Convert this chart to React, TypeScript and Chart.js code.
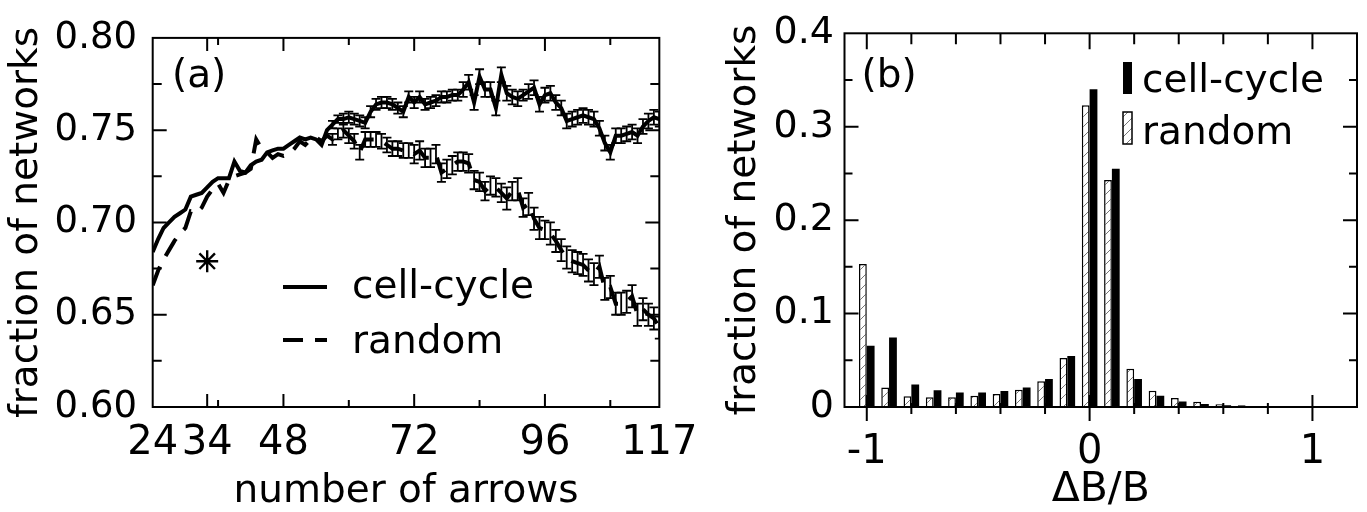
import { useEffect, useRef } from "react";
import { Chart, registerables } from "chart.js";

Chart.register(...registerables);

const FONT = '"DejaVu Sans", sans-serif';

// ---------- panel (a) data ----------
const ARROWS = [
  24, 25, 26, 27, 28, 29, 30, 31, 32, 33,
  34, 35, 36, 37, 38, 39, 40, 41, 42, 43,
  44, 45, 46, 47, 48, 49, 50, 51, 52, 53,
  54, 55, 56, 57, 58, 59, 60, 61, 62, 63,
  64, 65, 66, 67, 68, 69, 70, 71, 72, 73,
  74, 75, 76, 77, 78, 79, 80, 81, 82, 83,
  84, 85, 86, 87, 88, 89, 90, 91, 92, 93,
  94, 95, 96, 97, 98, 99, 100, 101, 102, 103,
  104, 105, 106, 107, 108, 109, 110, 111, 112, 113,
  114, 115, 116, 117,
];

const CELL_CYCLE = [
  0.684, 0.691, 0.697, 0.700, 0.703, 0.705, 0.707, 0.714, 0.715, 0.716,
  0.719, 0.722, 0.724, 0.724, 0.724, 0.733, 0.728, 0.727, 0.731, 0.733,
  0.734, 0.738, 0.739, 0.740, 0.740, 0.742, 0.744, 0.746, 0.745, 0.746,
  0.745, 0.742, 0.750, 0.753, 0.756, 0.756, 0.757, 0.756, 0.755, 0.754,
  0.760, 0.764, 0.765, 0.765, 0.764, 0.762, 0.760, 0.768, 0.765, 0.768,
  0.764, 0.765, 0.766, 0.768, 0.768, 0.769, 0.769, 0.772, 0.776, 0.765,
  0.779, 0.772, 0.772, 0.762, 0.780, 0.770, 0.768, 0.767, 0.769, 0.771,
  0.773, 0.764, 0.769, 0.770, 0.765, 0.762, 0.755, 0.756, 0.757, 0.758,
  0.757, 0.756, 0.751, 0.743, 0.738, 0.747, 0.747, 0.748, 0.749, 0.747,
  0.752, 0.755, 0.757, 0.756,
];

const RANDOM = [
  0.666, 0.674, 0.680, 0.685, 0.690, 0.694, 0.697, 0.706, 0.705, 0.708,
  0.714, 0.718, 0.721, 0.716, 0.723, 0.725, 0.726, 0.727, 0.729, 0.745,
  0.740, 0.738, 0.735, 0.737, 0.736, 0.737, 0.740, 0.744, 0.742, 0.745,
  0.746, 0.744, 0.747, 0.745, 0.748, 0.750, 0.747, 0.744, 0.738, 0.745,
  0.745, 0.745, 0.744, 0.742, 0.740, 0.740, 0.739, 0.739, 0.737, 0.739,
  0.735, 0.735, 0.737, 0.727, 0.729, 0.731, 0.733, 0.733, 0.732, 0.723,
  0.722, 0.717, 0.720, 0.719, 0.716, 0.713, 0.717, 0.718, 0.708, 0.710,
  0.702, 0.697, 0.696, 0.694, 0.690, 0.685, 0.681, 0.679, 0.678, 0.677,
  0.674, 0.672, 0.676, 0.664, 0.665, 0.656, 0.656, 0.657, 0.660, 0.650,
  0.653, 0.650, 0.648, 0.643,
];

// sampled points (n >= SAMPLED_FROM) carry error bars
const SAMPLED_FROM = 57;
const CELL_CYCLE_ERR = [
  0.002, 0.002, 0.003, 0.003, 0.003, 0.003, 0.003, 0.003, 0.003, 0.003,
  0.003, 0.003, 0.003, 0.003, 0.003, 0.003, 0.003, 0.003, 0.003, 0.003,
  0.003, 0.003, 0.003, 0.003, 0.004, 0.004, 0.004, 0.004, 0.004, 0.004,
  0.004, 0.004, 0.004, 0.004, 0.004, 0.003, 0.004, 0.004, 0.004, 0.004,
  0.004, 0.004, 0.004, 0.004, 0.004, 0.004, 0.004, 0.004, 0.004, 0.004,
  0.004, 0.004, 0.004, 0.004, 0.004, 0.004, 0.004, 0.004, 0.004, 0.004,
  0.004,
];
const RANDOM_ERR = [
  0.003, 0.003, 0.004, 0.004, 0.004, 0.004, 0.004, 0.004, 0.004, 0.004,
  0.004, 0.004, 0.004, 0.004, 0.004, 0.005, 0.005, 0.005, 0.005, 0.005,
  0.005, 0.005, 0.005, 0.005, 0.005, 0.005, 0.005, 0.005, 0.005, 0.005,
  0.005, 0.005, 0.006, 0.005, 0.006, 0.005, 0.006, 0.006, 0.006, 0.005,
  0.006, 0.006, 0.006, 0.006, 0.006, 0.006, 0.006, 0.006, 0.006, 0.006,
  0.006, 0.006, 0.006, 0.006, 0.006, 0.006, 0.006, 0.006, 0.006, 0.006,
  0.006,
];

// the real cell-cycle network (asterisk)
const STAR_X = [34];
const STAR_Y = [0.679];

const A_X_LABELS = [24, 34, 48, 72, 96, 117];
const A_X_MAJOR = [34, 48, 72, 96];
const A_X_MINOR = [36, 60, 84, 108];
const A_Y_MAJOR = [0.65, 0.7, 0.75];
const A_Y_MINOR = [0.625, 0.675, 0.725, 0.775];

// ---------- panel (b) data ----------
const DB_BINS = [
  -1, -0.9, -0.8, -0.7, -0.6, -0.5, -0.4, -0.3, -0.2, -0.1,
  0, 0.1, 0.2, 0.3, 0.4, 0.5, 0.6, 0.7, 0.8, 0.9, 1.0, 1.1,
];
const DB_RANDOM = [
  0.153, 0.021, 0.0115, 0.0105, 0.0105, 0.012, 0.014, 0.0185, 0.0275, 0.0525,
  0.323, 0.243, 0.041, 0.0175, 0.0095, 0.0055, 0.003, 0.0018, 0.0012, 0.0008,
  0.0006, 0.0004,
];
const DB_CELL = [
  0.0655, 0.0745, 0.024, 0.018, 0.0155, 0.0155, 0.017, 0.021, 0.030, 0.0545,
  0.340, 0.255, 0.030, 0.012, 0.006, 0.0032, 0.0018, 0.0011, 0.0007, 0.0005,
  0.0004, 0.0003,
];

const B_X_LABELS = [-1, 0, 1];
const B_X_MAJOR = [-1, 0, 1];
const B_X_MINOR = [-0.8, -0.6, -0.4, -0.2, 0.2, 0.4, 0.6, 0.8];
const B_Y_MAJOR = [0.1, 0.2, 0.3];
const B_Y_MINOR = [0.05, 0.15, 0.25, 0.35];

// ---------- plugins ----------
type TickSpec = { v: number; bIn: number; bOut: number; tIn: number };
type YTickSpec = { v: number; len: number };

function frameTicks(xt: TickSpec[], yt: YTickSpec[]) {
  return {
    id: "frameTicks",
    afterDraw(chart: any) {
      const { ctx, chartArea: a, scales } = chart;
      const x = scales.x;
      const y = scales.y;
      ctx.save();
      ctx.strokeStyle = "#000";
      ctx.lineWidth = 2;
      ctx.lineCap = "butt";
      ctx.beginPath();
      for (const t of xt) {
        const px = x.getPixelForValue(t.v);
        ctx.moveTo(px, a.bottom + t.bOut);
        ctx.lineTo(px, a.bottom - t.bIn);
        ctx.moveTo(px, a.top);
        ctx.lineTo(px, a.top + t.tIn);
      }
      for (const t of yt) {
        const py = y.getPixelForValue(t.v);
        ctx.moveTo(a.left, py);
        ctx.lineTo(a.left + t.len, py);
        ctx.moveTo(a.right, py);
        ctx.lineTo(a.right - t.len, py);
      }
      ctx.stroke();
      ctx.strokeRect(a.left, a.top, a.right - a.left, a.bottom - a.top);
      ctx.restore();
    },
  };
}

const errorBars = {
  id: "errorBars",
  afterDatasetsDraw(chart: any) {
    const { ctx, chartArea: a, scales } = chart;
    const x = scales.x;
    const y = scales.y;
    ctx.save();
    ctx.beginPath();
    ctx.rect(a.left, a.top, a.right - a.left, a.bottom - a.top);
    ctx.clip();
    ctx.strokeStyle = "#000";
    ctx.lineWidth = 1.8;
    chart.data.datasets.forEach((ds: any) => {
      if (!ds.errors) return;
      ds.data.forEach((p: any, i: number) => {
        const e = ds.errors[i];
        if (e == null) return;
        const px = x.getPixelForValue(p.x);
        const y1 = y.getPixelForValue(p.y + e);
        const y2 = y.getPixelForValue(p.y - e);
        ctx.beginPath();
        ctx.moveTo(px, y1);
        ctx.lineTo(px, y2);
        ctx.moveTo(px - 4.5, y1);
        ctx.lineTo(px + 4.5, y1);
        ctx.moveTo(px - 4.5, y2);
        ctx.lineTo(px + 4.5, y2);
        ctx.stroke();
      });
    });
    ctx.restore();
  },
};

const legendA = {
  id: "legendA",
  afterDraw(chart: any) {
    const { ctx } = chart;
    ctx.save();
    ctx.fillStyle = "#000";
    ctx.strokeStyle = "#000";
    ctx.font = `39px ${FONT}`;
    ctx.textBaseline = "alphabetic";
    ctx.textAlign = "left";
    ctx.fillText("(a)", 172, 87);
    ctx.lineWidth = 4;
    ctx.beginPath();
    ctx.moveTo(283, 287);
    ctx.lineTo(327, 287);
    ctx.stroke();
    ctx.setLineDash([20, 12]);
    ctx.beginPath();
    ctx.moveTo(283, 340);
    ctx.lineTo(327, 340);
    ctx.stroke();
    ctx.setLineDash([]);
    ctx.fillText("cell-cycle", 352, 298);
    ctx.fillText("random", 352, 353);
    ctx.restore();
  },
};

function legendB(pattern: CanvasPattern | string) {
  return {
    id: "legendB",
    afterDraw(chart: any) {
      const { ctx } = chart;
      ctx.save();
      ctx.fillStyle = "#000";
      ctx.font = `39px ${FONT}`;
      ctx.textBaseline = "alphabetic";
      ctx.textAlign = "left";
      ctx.fillText("(b)", 151.5, 87);
      ctx.fillRect(413, 62, 9, 32);
      ctx.fillStyle = pattern;
      ctx.fillRect(413, 112, 9, 32);
      ctx.strokeStyle = "#000";
      ctx.lineWidth = 1.5;
      ctx.strokeRect(413, 112, 9, 32);
      ctx.fillStyle = "#000";
      ctx.fillText("cell-cycle", 432, 92);
      ctx.fillText("random", 432, 144);
      ctx.restore();
    },
  };
}

function makeHatch(): CanvasPattern | string {
  const c = document.createElement("canvas");
  c.width = 10;
  c.height = 10;
  const g = c.getContext("2d");
  if (!g) return "#fff";
  g.fillStyle = "#fff";
  g.fillRect(0, 0, 10, 10);
  g.strokeStyle = "#777";
  g.lineWidth = 1;
  g.beginPath();
  g.moveTo(-1, 11);
  g.lineTo(11, -1);
  g.stroke();
  const p = g.createPattern(c, "repeat");
  return p || "#fff";
}

export default function App() {
  const leftRef = useRef<HTMLCanvasElement>(null);
  const rightRef = useRef<HTMLCanvasElement>(null);

  useEffect(() => {
    Chart.defaults.color = "#000";
    Chart.defaults.font.family = FONT;

    const cellPts = ARROWS.map((n, i) => ({ x: n, y: CELL_CYCLE[i] }));
    const randPts = ARROWS.map((n, i) => ({ x: n, y: RANDOM[i] }));
    const cellErr = ARROWS.map((n) => (n >= SAMPLED_FROM ? CELL_CYCLE_ERR[n - SAMPLED_FROM] : null));
    const randErr = ARROWS.map((n) => (n >= SAMPLED_FROM ? RANDOM_ERR[n - SAMPLED_FROM] : null));

    const aXTicks: TickSpec[] = [
      ...A_X_MAJOR.map((v) => ({ v, bIn: 13, bOut: 0, tIn: 13 })),
      ...A_X_MINOR.map((v) => ({ v, bIn: 7, bOut: 0, tIn: 7 })),
    ];
    const aYTicks: YTickSpec[] = [
      ...A_Y_MAJOR.map((v) => ({ v, len: 14 })),
      ...A_Y_MINOR.map((v) => ({ v, len: 9 })),
    ];

    const chartA = new Chart(leftRef.current as HTMLCanvasElement, {
      type: "line",
      data: {
        datasets: [
          {
            label: "cell-cycle",
            data: cellPts,
            errors: cellErr,
            borderColor: "#000",
            borderWidth: 4,
            borderJoinStyle: "miter",
            borderCapStyle: "butt",
            pointRadius: 0,
            tension: 0,
            fill: false,
          } as any,
          {
            label: "random",
            data: randPts,
            errors: randErr,
            borderColor: "#000",
            borderWidth: 4,
            borderDash: [20, 12],
            borderJoinStyle: "miter",
            borderCapStyle: "butt",
            pointRadius: 0,
            tension: 0,
            fill: false,
          } as any,
          {
            label: "cell-cycle network",
            data: STAR_X.map((x, i) => ({ x, y: STAR_Y[i] })),
            showLine: false,
            pointStyle: "star",
            pointRadius: 11,
            pointBorderWidth: 2.4,
            pointBorderColor: "#000",
            pointBackgroundColor: "#000",
            borderColor: "#000",
          } as any,
        ],
      },
      options: {
        animation: false,
        responsive: true,
        maintainAspectRatio: false,
        layout: { padding: { left: 0, top: 24, right: 44.3, bottom: 0 } },
        plugins: { legend: { display: false }, tooltip: { enabled: false } },
        events: [],
        scales: {
          x: {
            type: "linear",
            min: 24,
            max: 117,
            grid: { display: false, drawTicks: false },
            border: { display: false },
            afterBuildTicks: (s: any) => {
              s.ticks = A_X_LABELS.map((v) => ({ value: v }));
            },
            afterFit: (s: any) => {
              s.height = 105;
            },
            ticks: {
              autoSkip: false,
              maxRotation: 0,
              padding: 12.5,
              font: { size: 40, family: FONT },
              color: "#000",
              callback: (v: any) => String(v),
            },
            title: {
              display: true,
              text: "number of arrows",
              font: { size: 39, family: FONT, lineHeight: 1 },
              padding: { top: 0, bottom: 1 },
              color: "#000",
            },
          },
          y: {
            type: "linear",
            min: 0.6,
            max: 0.8,
            grid: { display: false, drawTicks: false },
            border: { display: false },
            afterFit: (s: any) => {
              s.width = 152.7;
            },
            ticks: {
              stepSize: 0.05,
              padding: 15.7,
              font: { size: 37, family: FONT },
              color: "#000",
              callback: (v: any) => Number(v).toFixed(2),
            },
            title: {
              display: true,
              text: "fraction of networks",
              font: { size: 39, family: FONT, lineHeight: 1 },
              padding: { top: 7.5, bottom: 0 },
              color: "#000",
            },
          },
        },
      } as any,
      plugins: [errorBars, frameTicks(aXTicks, aYTicks), legendA],
    });

    const hatch = makeHatch();
    const bXTicks: TickSpec[] = [
      ...B_X_MAJOR.map((v) => ({ v, bIn: 12, bOut: 14, tIn: 16 })),
      ...B_X_MINOR.map((v) => ({ v, bIn: 4, bOut: 7, tIn: 11 })),
    ];
    const bYTicks: YTickSpec[] = [
      ...B_Y_MAJOR.map((v) => ({ v, len: 14 })),
      ...B_Y_MINOR.map((v) => ({ v, len: 8 })),
    ];

    const chartB = new Chart(rightRef.current as HTMLCanvasElement, {
      type: "bar",
      data: {
        datasets: [
          {
            label: "random",
            data: DB_BINS.map((x, i) => ({ x, y: DB_RANDOM[i] })),
            backgroundColor: hatch,
            borderColor: "#000",
            borderWidth: 1.5,
            borderSkipped: "bottom",
            categoryPercentage: 0.7,
            barPercentage: 1,
          } as any,
          {
            label: "cell-cycle",
            data: DB_BINS.map((x, i) => ({ x, y: DB_CELL[i] })),
            backgroundColor: "#000",
            borderColor: "#000",
            borderWidth: 0,
            categoryPercentage: 0.7,
            barPercentage: 1,
          } as any,
        ],
      },
      options: {
        animation: false,
        responsive: true,
        maintainAspectRatio: false,
        layout: { padding: { left: 0, top: 24, right: 10, bottom: 0 } },
        plugins: { legend: { display: false }, tooltip: { enabled: false } },
        events: [],
        scales: {
          x: {
            type: "linear",
            min: -1.1,
            max: 1.2,
            offset: false,
            grid: { display: false, drawTicks: false },
            border: { display: false },
            afterBuildTicks: (s: any) => {
              s.ticks = B_X_LABELS.map((v) => ({ value: v }));
            },
            afterFit: (s: any) => {
              s.height = 105;
            },
            ticks: {
              autoSkip: false,
              maxRotation: 0,
              padding: 22,
              font: { size: 40, family: FONT },
              color: "#000",
              callback: (v: any) => String(v),
            },
            title: {
              display: true,
              text: "ΔB/B",
              font: { size: 41, family: FONT, lineHeight: 1 },
              padding: { top: 0, bottom: 1 },
              color: "#000",
            },
          },
          y: {
            type: "linear",
            min: 0,
            max: 0.4,
            grid: { display: false, drawTicks: false },
            border: { display: false },
            afterFit: (s: any) => {
              s.width = 134.5;
            },
            ticks: {
              stepSize: 0.1,
              padding: 10.5,
              font: { size: 38, family: FONT },
              color: "#000",
              callback: (v: any) => (Math.abs(v) < 1e-9 ? "0" : Number(v).toFixed(1)),
            },
            title: {
              display: true,
              text: "fraction of networks",
              font: { size: 39, family: FONT, lineHeight: 1 },
              padding: { top: 15.5, bottom: 0 },
              color: "#000",
            },
          },
        },
      } as any,
      plugins: [frameTicks(bXTicks, bYTicks), legendB(hatch)],
    });

    return () => {
      chartA.destroy();
      chartB.destroy();
    };
  }, []);

  return (
    <div
      style={{
        position: "absolute",
        left: 0,
        top: 0,
        width: 1367,
        height: 512,
        background: "#fff",
        overflow: "hidden",
      }}
    >
      <div style={{ position: "absolute", left: 0, top: 0, width: 710, height: 512 }}>
        <canvas ref={leftRef} />
      </div>
      <div style={{ position: "absolute", left: 710, top: 0, width: 657, height: 512 }}>
        <canvas ref={rightRef} />
      </div>
    </div>
  );
}
